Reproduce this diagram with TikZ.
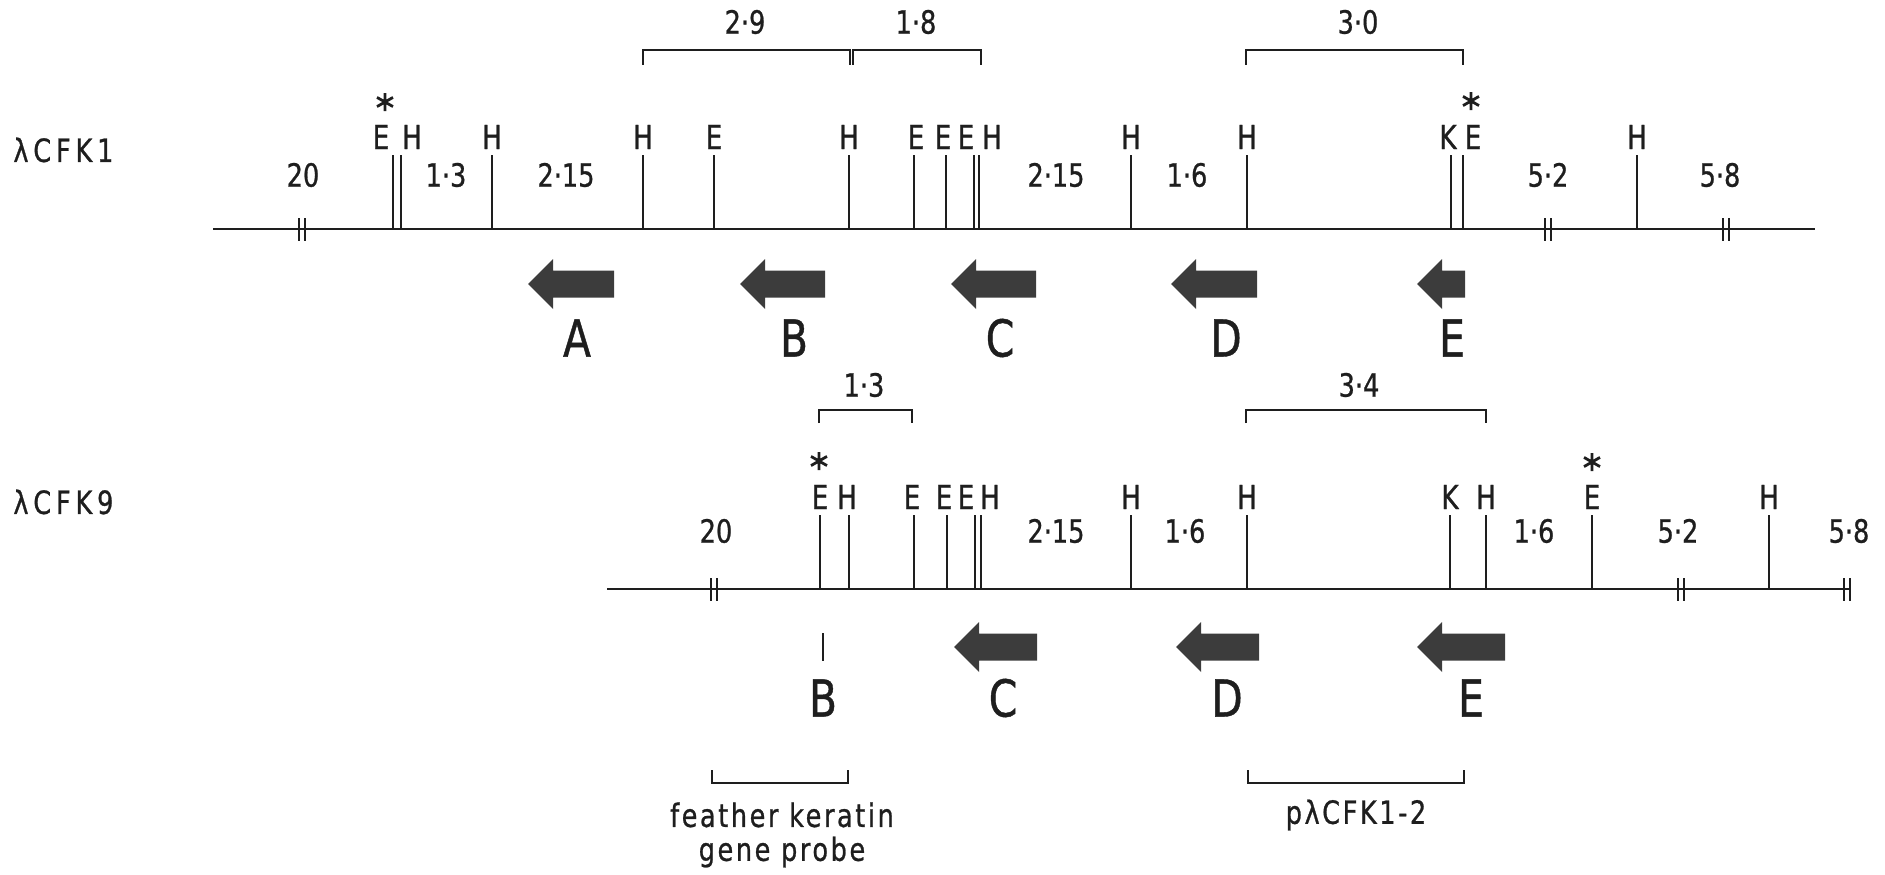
\documentclass[tikz,border=0pt]{standalone}
\usepackage{fontspec}
\setmainfont{DejaVu Sans}[FakeStretch=0.8,FakeBold=0.8]
\newfontfamily\spacedfont{DejaVu Sans}[FakeStretch=0.8,FakeBold=0.8,LetterSpace=8]
\newfontfamily\clonefont{DejaVu Sans}[FakeStretch=0.8,FakeBold=0.8,LetterSpace=15]
\definecolor{inkc}{HTML}{1E1E1E}
\definecolor{arrowc}{HTML}{3C3C3C}
\begin{document}
\begin{tikzpicture}[x=1pt,y=-1pt,line width=2.8pt,color=inkc,
  lab/.style={font=\fontsize{33}{33}\selectfont,text=inkc,inner sep=0pt},
  sizelab/.style={font=\fontsize{32}{32}\selectfont,text=inkc,inner sep=0pt},
  genelab/.style={font=\fontsize{51}{51}\selectfont,text=inkc,inner sep=0pt},
  clonelab/.style={font=\clonefont\fontsize{32}{32}\selectfont,text=inkc,inner sep=0pt,anchor=west},
  noteLab/.style={font=\spacedfont\fontsize{32}{32}\selectfont,text=inkc,inner sep=0pt},
  starmark/.style={line width=2.8pt},
  gene/.style={fill=arrowc,draw=none}]
\useasboundingbox (0,0) rectangle (1885,875);
% ---------------- clone labels
\node[clonelab] (k1) at (12,150) {λCFK1};
\node[clonelab] (k9) at (12,502) {λCFK9};
% ================= lambda CFK1 map
\coordinate (t0) at (213,229); \coordinate (t1) at (1815,229);
\draw (t0) -- (t1);
\foreach \x in {302,1548,1726} \draw (\x-3,218) -- (\x-3,241) (\x+3,218) -- (\x+3,241);
\foreach \x in {393,401,492,643,714,849,914,946,974,979,1131,1247,1451,1463,1637}
  \draw (\x,155) -- (\x,229);
\foreach \x/\l [count=\i] in {381/E,412/H,492/H,643/H,714/E,849/H,916/E,943/E,966/E,992/H,1131/H,1247/H,1448/K,1473/E,1637/H}
  \node[lab] (ts\i) at (\x,137) {\l};
% asterisks
\foreach \x/\y [count=\i] in {385/102,1471/101,819/461,1592/462}{
  \coordinate (st\i) at (\x,\y);
  \draw[starmark] ([yshift=-9]st\i) -- ([yshift=9]st\i)
    ([shift={(-8,-4.6)}]st\i) -- ([shift={(8,4.6)}]st\i)
    ([shift={(-8,4.6)}]st\i) -- ([shift={(8,-4.6)}]st\i);
}
\foreach \x/\l [count=\i] in {303/20,446/1·3,566/2·15,1056/2·15,1187/1·6,1548/5·2,1720/5·8}
  \node[sizelab] (tz\i) at (\x,175) {\l};
% brackets above
\draw (643,65) -- (643,50) -- (850,50) -- (850,65);
\draw (853,65) -- (853,50) -- (981,50) -- (981,65);
\draw (1246,65) -- (1246,50) -- (1463,50) -- (1463,65);
\node[sizelab] (b29) at (745,22) {2·9};
\node[sizelab] (b18) at (916,22) {1·8};
\node[sizelab] (b30) at (1358,22) {3·0};
% genes
\foreach \t/\r in {528/614,740/825,951/1036,1171/1257,1417/1465}
  \fill[gene] (\t,284) -- (\t+25,259) -- (\t+25,270.5) -- (\r,270.5) -- (\r,297.5) -- (\t+25,297.5) -- (\t+25,309) -- cycle;
\foreach \x/\l in {577/A,794/B,1000/C,1226/D,1452/E}
  \node[genelab] (tg\l) at (\x,338) {\l};
% ================= lambda CFK9 map
\coordinate (u0) at (607,589); \coordinate (u1) at (1851,589);
\draw (u0) -- (u1);
\foreach \x in {714,1681,1847} \draw (\x-3,578) -- (\x-3,601) (\x+3,578) -- (\x+3,601);
\foreach \x in {820,849,914,947,975,981,1131,1247,1450,1486,1592,1769}
  \draw (\x,515) -- (\x,589);
\foreach \x/\l [count=\i] in {820/E,847/H,912/E,944/E,966/E,990/H,1131/H,1247/H,1450/K,1486/H,1592/E,1769/H}
  \node[lab] (us\i) at (\x,497) {\l};
\foreach \x/\l [count=\i] in {716/20,1056/2·15,1185/1·6,1534/1·6,1678/5·2,1849/5·8}
  \node[sizelab] (uz\i) at (\x,531) {\l};
\draw (819,423) -- (819,410) -- (912,410) -- (912,423);
\draw (1246,423) -- (1246,410) -- (1486,410) -- (1486,423);
\node[sizelab] (b13) at (864,385) {1·3};
\node[sizelab] (b34) at (1359,385) {3·4};
% genes
\draw (823,633) -- (823,661);
\foreach \t/\r in {954/1037,1176/1259,1417/1505}
  \fill[gene] (\t,647) -- (\t+25,622) -- (\t+25,633.5) -- (\r,633.5) -- (\r,660.5) -- (\t+25,660.5) -- (\t+25,672) -- cycle;
\foreach \x/\l in {823/B,1003/C,1227/D,1471/E}
  \node[genelab] (ug\l) at (\x,698) {\l};
% probes
\draw (712,770) -- (712,783) -- (848,783) -- (848,770);
\draw (1248,770) -- (1248,783) -- (1464,783) -- (1464,770);
\node[noteLab] (fk) at (782,815) {feather keratin};
\node[noteLab] (gp) at (782,852) {gene probe};
\node[noteLab] (pl) at (1356,815) {pλCFK1-2};
\end{tikzpicture}
\end{document}
